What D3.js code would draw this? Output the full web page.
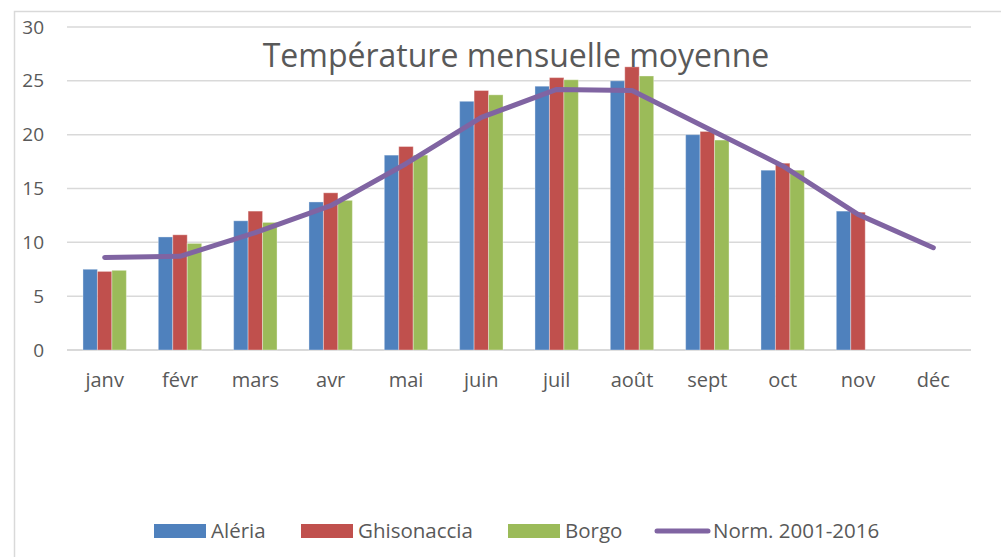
<!DOCTYPE html>
<html>
<head>
<meta charset="utf-8">
<script src="https://cdn.jsdelivr.net/npm/d3@7.9.0/dist/d3.min.js"></script>
<style>
  body { margin: 0; background: #fff; }
  svg { display: block; font-family: "Open Sans", sans-serif; }
</style>
</head>
<body>
<svg id="chart" width="1001" height="557"></svg>
<script>
const months = ["janv", "févr", "mars", "avr", "mai", "juin", "juil", "août", "sept", "oct", "nov", "déc"];
const aleria = [7.5, 10.5, 12.0, 13.75, 18.1, 23.1, 24.5, 25.0, 20.0, 16.7, 12.9, null];
const ghisonaccia = [7.3, 10.7, 12.9, 14.6, 18.9, 24.1, 25.3, 26.3, 20.3, 17.35, 12.8, null];
const borgo = [7.4, 9.9, 11.85, 13.9, 18.1, 23.7, 25.1, 25.45, 19.5, 16.7, null, null];
const norm = [8.6, 8.7, 10.9, 13.4, 17.3, 21.6, 24.2, 24.1, 20.6, 17.1, 12.6, 9.5];
const yTicks = [0, 5, 10, 15, 20, 25, 30];

const seriesNames = ["Aléria", "Ghisonaccia", "Borgo"];
const seriesColors = ["#4f81bd", "#c0504d", "#9bbb59"];
const lineColor = "#8064a2";
const barSeries = [aleria, ghisonaccia, borgo];

const svg = d3.select("#chart");

// chart area border
svg.append("rect")
  .attr("x", 14.5).attr("y", 11.5)
  .attr("width", 1100).attr("height", 600)
  .attr("fill", "none").attr("stroke", "#d9d9d9").attr("stroke-width", 1.5);

const x = d3.scaleBand()
  .domain(months)
  .range([67, 971])
  .paddingInner(0.424)
  .paddingOuter(0.212);

const xs = d3.scaleBand()
  .domain(seriesNames)
  .range([0, x.bandwidth()]);

const y = d3.scaleLinear().domain([0, 30]).range([350, 27]);

// gridlines
svg.append("g")
  .selectAll("line")
  .data(yTicks)
  .join("line")
  .attr("x1", 67).attr("x2", 971)
  .attr("y1", d => y(d)).attr("y2", d => y(d))
  .attr("stroke", "#d9d9d9")
  .attr("stroke-width", d => d === 0 ? 2 : 1.5);

// y tick labels
svg.append("g")
  .selectAll("text")
  .data(yTicks)
  .join("text")
  .attr("x", 44)
  .attr("y", d => y(d))
  .attr("dy", "0.35em")
  .attr("text-anchor", "end")
  .attr("fill", "#595959")
  .attr("font-size", 19)
  .text(d => d);

// x labels
svg.append("g")
  .selectAll("text")
  .data(months)
  .join("text")
  .attr("x", d => x(d) + x.bandwidth() / 2)
  .attr("y", 387)
  .attr("text-anchor", "middle")
  .attr("fill", "#595959")
  .attr("font-size", 20)
  .text(d => d);

// bars
barSeries.forEach((vals, si) => {
  svg.append("g")
    .selectAll("rect")
    .data(months.map((m, i) => ({ m, v: vals[i] })).filter(d => d.v != null))
    .join("rect")
    .attr("x", d => x(d.m) + xs(seriesNames[si]))
    .attr("y", d => y(d.v))
    .attr("width", xs.bandwidth())
    .attr("height", d => y(0) - y(d.v))
    .attr("fill", seriesColors[si])
    .attr("stroke", "rgba(255,255,255,0.35)")
    .attr("stroke-width", 1);
});

// norm line
const line = d3.line()
  .x((d, i) => x(months[i]) + x.bandwidth() / 2)
  .y(d => y(d));

svg.append("path")
  .datum(norm)
  .attr("d", line)
  .attr("fill", "none")
  .attr("stroke", lineColor)
  .attr("stroke-width", 5)
  .attr("stroke-linecap", "round")
  .attr("stroke-linejoin", "round");

// title
svg.append("text")
  .attr("x", 516)
  .attr("y", 67)
  .attr("text-anchor", "middle")
  .attr("fill", "#595959")
  .attr("font-size", 32)
  .text("Température mensuelle moyenne");

// legend
const legend = svg.append("g");
const legendX = [154, 301, 508];
seriesNames.forEach((name, i) => {
  legend.append("rect")
    .attr("x", legendX[i]).attr("y", 524)
    .attr("width", 52).attr("height", 14)
    .attr("fill", seriesColors[i]);
  legend.append("text")
    .attr("x", legendX[i] + 57).attr("y", 538)
    .attr("fill", "#595959").attr("font-size", 20.5)
    .text(name);
});
legend.append("line")
  .attr("x1", 657).attr("x2", 708)
  .attr("y1", 531).attr("y2", 531)
  .attr("stroke", lineColor).attr("stroke-width", 5)
  .attr("stroke-linecap", "round");
legend.append("text")
  .attr("x", 713).attr("y", 538)
  .attr("fill", "#595959").attr("font-size", 20.5)
  .text("Norm. 2001-2016");
</script>
</body>
</html>
